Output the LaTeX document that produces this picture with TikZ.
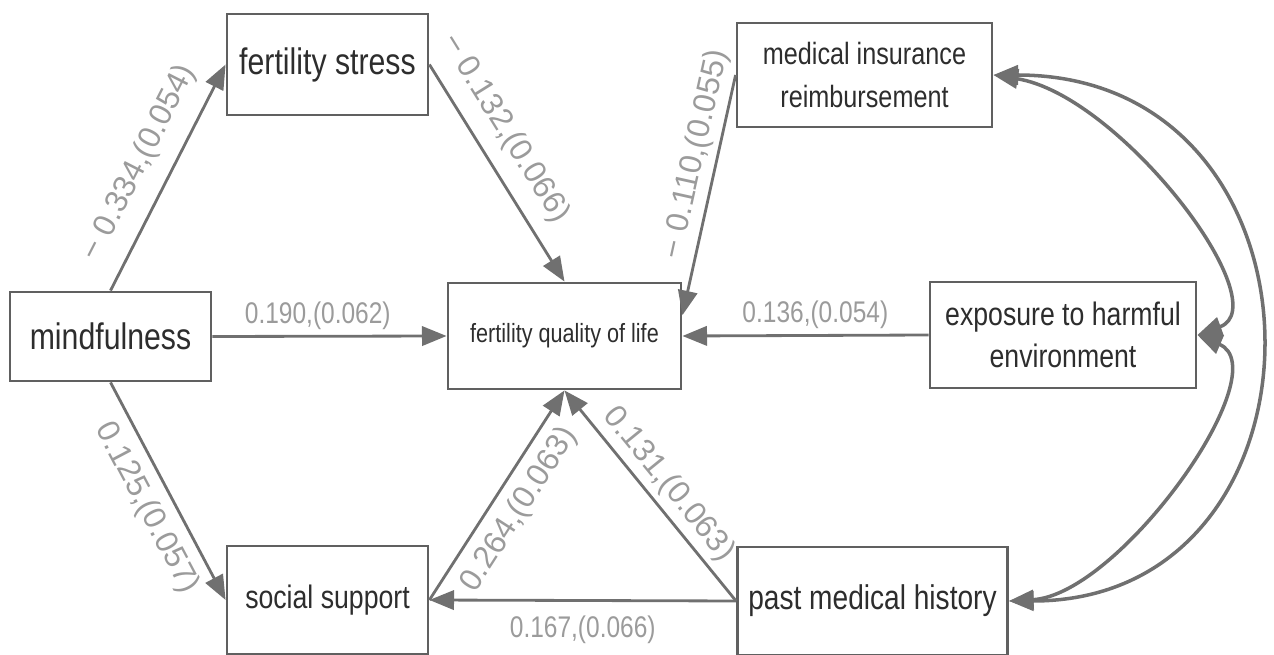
\documentclass[tikz,border=0pt]{standalone}
\usepackage{fontspec}
\setmainfont{Liberation Sans}[FakeStretch=0.82]
\newfontfamily\slopefont{Liberation Sans}
\usetikzlibrary{arrows.meta}
\definecolor{pathgray}{RGB}{112,112,112}
\definecolor{boxgray}{RGB}{96,96,96}
\definecolor{labgray}{RGB}{155,155,155}
\definecolor{txtgray}{RGB}{45,45,45}

\begin{document}
\begin{tikzpicture}[x=0.2mm,y=-0.2mm,
    var/.style={draw=boxgray,line width=1.6pt,inner sep=0pt,align=center,text=txtgray},
    eff/.style={draw=pathgray,line width=1.6pt,-{Triangle[length=14pt,width=11pt]}},
    cov/.style={draw=pathgray,line width=2pt,
      {Triangle[length=14pt,width=11pt]}-{Triangle[length=14pt,width=11pt]}},
    est/.style={text=labgray,font=\fontsize{17}{20}\selectfont,inner sep=3pt},
    estsl/.style={text=labgray,font=\slopefont\fontsize{18}{20}\selectfont,sloped,inner sep=3pt}]
    \useasboundingbox (0,0) rectangle (1274,655);
    % variables
    \node[var,minimum width=40.2mm,minimum height=20.2mm,font=\fontsize{21}{25}\selectfont]
      (stress) at (327.5,64.5) {fertility stress};
    \node[var,minimum width=40.2mm,minimum height=17.8mm,font=\fontsize{21}{25}\selectfont]
      (mind) at (110.5,336.5) {mindfulness};
    \node[var,minimum width=46.6mm,minimum height=21.2mm,font=\fontsize{15}{18}\selectfont]
      (fqol) at (564.5,336) {fertility quality of life};
    \node[var,minimum width=51mm,minimum height=20.8mm,font=\fontsize{17.5}{25}\selectfont]
      (medical) at (864.5,75) {medical insurance\\reimbursement};
    \node[var,minimum width=53.2mm,minimum height=21.2mm,font=\fontsize{18.5}{24}\selectfont]
      (expo) at (1063,335) {exposure to harmful\\environment};
    \node[var,minimum width=40.2mm,minimum height=21.6mm,font=\fontsize{18.5}{22}\selectfont]
      (social) at (327.5,600) {social support};
    \node[var,minimum width=54mm,minimum height=21.6mm,font=\fontsize{19.5}{23}\selectfont]
      (history) at (872.5,601) {past medical history};
    % paths
    \draw[eff] (mind.north) -- node[estsl,above=6pt,pos=0.5] {− 0.334,(0.054)} (stress.west);
    \draw[eff] (stress.east) -- node[estsl,above=5pt,pos=0.37] {− 0.132,(0.066)} (fqol.north);
    \draw[eff] (medical.west) -- node[estsl,above,pos=0.35] {− 0.110,(0.055)} (fqol.10);
    \draw[eff] (expo.west) -- node[est,above,pos=0.46] {0.136,(0.054)} (fqol.east);
    \draw[eff] (mind.east) -- node[est,above,pos=0.45] {0.190,(0.062)} (fqol.west);
    \draw[eff] (mind.south) -- node[estsl,below=3pt,pos=0.52] {0.125,(0.057)} (social.west);
    \draw[eff] (social.east) -- node[estsl,below=3pt,pos=0.5] {0.264,(0.063)} (fqol.south);
    \draw[eff] (history.west) -- node[estsl,above,pos=0.49] {0.131,(0.063)} (fqol.south);
    \draw[eff] (history.west) -- node[est,below=5pt,pos=0.5] {0.167,(0.066)} (social.east);
    % covariances
    \draw[cov] (medical.east) .. controls (1345,75) and (1345,601) .. (history.east);
    \draw[cov] (medical.east) .. controls (1120,95) and (1280,305) .. (expo.east);
    \draw[cov] (expo.east) .. controls (1280,370) and (1120,595) .. (history.east);
\end{tikzpicture}
\end{document}
